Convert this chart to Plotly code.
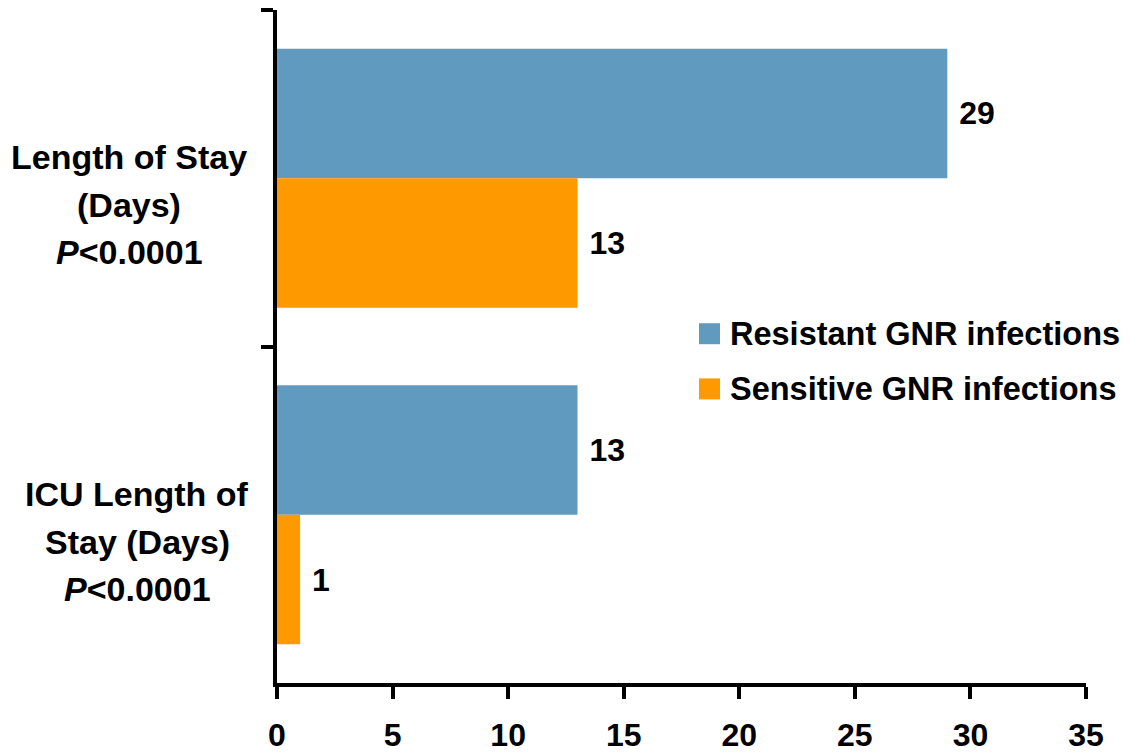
import plotly.graph_objects as go

# Outcome measures (top to bottom) and mean days per infection type
categories = ["LOS", "ICU"]
category_lines = {
    "LOS": ["Length of Stay", "(Days)", "<i>P</i>&lt;0.0001"],
    "ICU": ["ICU Length of", "Stay (Days)", "<i>P</i>&lt;0.0001"],
}
series_names = ["Resistant GNR infections", "Sensitive GNR infections"]
resistant_days = [29, 13]
sensitive_days = [13, 1]
x_ticks = [0, 5, 10, 15, 20, 25, 30, 35]

colors = ["#619ABF", "#FF9900"]
FONT = "Arial, Liberation Sans, sans-serif"


def bold(size):
    return dict(family=FONT, size=size, color="black", weight="bold")


fig = go.Figure()
for name, vals, col in zip(series_names, [resistant_days, sensitive_days], colors):
    fig.add_trace(go.Bar(
        name=name,
        y=categories,
        x=vals,
        orientation="h",
        marker=dict(color=col, line=dict(width=0)),
        text=[f"\u00a0{v}" for v in vals],
        textposition="outside",
        textfont=bold(32),
        cliponaxis=False,
        showlegend=False,
    ))

annotations = []
# Multi-line category labels, one line per annotation for wider line spacing
label_centers = {"LOS": -148, "ICU": -140}
line_shifts = [21, -27, -74]
for cat in categories:
    for line, dy in zip(category_lines[cat], line_shifts):
        annotations.append(dict(
            text=line, xref="paper", yref="y", x=0, y=cat,
            xshift=label_centers[cat], yshift=dy,
            xanchor="center", yanchor="middle",
            showarrow=False, font=bold(34),
        ))

# Legend: colour squares with bold labels
shapes = []
legend_y = [0.519, 0.437]
for name, col, ly in zip(series_names, colors, legend_y):
    shapes.append(dict(
        type="rect", xref="paper", yref="paper",
        xsizemode="pixel", ysizemode="pixel",
        xanchor=0.5216, yanchor=ly,
        x0=0, x1=21, y0=-10.5, y1=10.5,
        fillcolor=col, line=dict(width=0),
    ))
    annotations.append(dict(
        text=name, xref="paper", yref="paper",
        x=0.5575, y=ly, xanchor="left", yanchor="middle",
        showarrow=False, font=bold(32.5),
    ))

fig.update_layout(
    width=1148, height=753,
    margin=dict(l=277, r=62, t=10, b=70),
    paper_bgcolor="white", plot_bgcolor="white",
    barmode="group", bargap=0.23, bargroupgap=0,
    font=dict(family=FONT, color="black"),
    annotations=annotations,
    shapes=shapes,
    xaxis=dict(
        range=[0, 35], tickvals=x_ticks, showgrid=False, zeroline=False,
        showline=True, linecolor="black", linewidth=4,
        ticks="outside", ticklen=12, tickwidth=4, tickcolor="black",
        tickfont=bold(32), ticklabelstandoff=9, automargin=False,
    ),
    yaxis=dict(
        categoryorder="array", categoryarray=categories,
        range=[1.5, -0.5], showgrid=False, zeroline=False,
        showline=True, linecolor="black", linewidth=4,
        ticks="outside", ticklen=12, tickwidth=4, tickcolor="black",
        tickson="boundaries", showticklabels=False, automargin=False,
    ),
)

fig.write_html("out.html")
